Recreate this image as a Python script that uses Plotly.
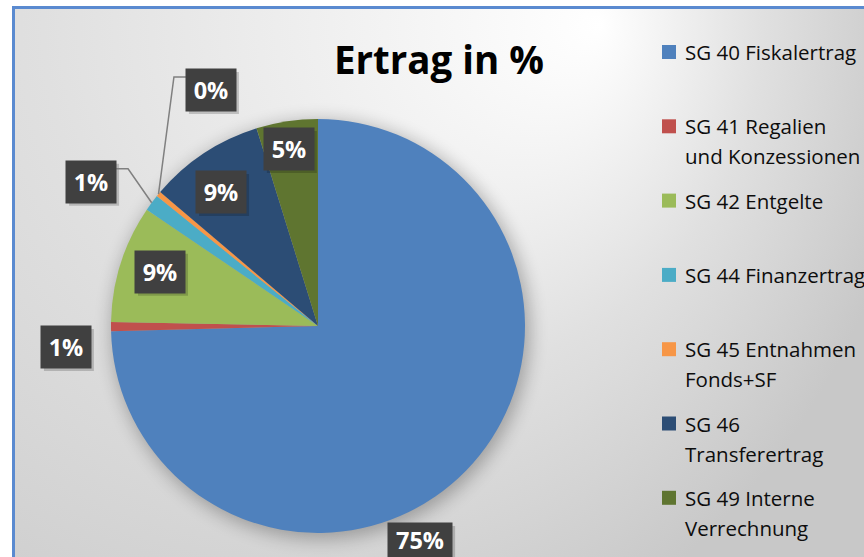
import math
import base64
import plotly.graph_objects as go

# ---------------- data ----------------
categories = [
    "SG 40 Fiskalertrag",
    "SG 41 Regalien und Konzessionen",
    "SG 42 Entgelte",
    "SG 44 Finanzertrag",
    "SG 45 Entnahmen Fonds+SF",
    "SG 46 Transferertrag",
    "SG 49 Interne Verrechnung",
]
legend_lines = [
    ["SG 40 Fiskalertrag"],
    ["SG 41 Regalien", "und Konzessionen"],
    ["SG 42 Entgelte"],
    ["SG 44 Finanzertrag"],
    ["SG 45 Entnahmen", "Fonds+SF"],
    ["SG 46", "Transferertrag"],
    ["SG 49 Interne", "Verrechnung"],
]
shares = [74.6, 0.7, 9.2, 1.3, 0.4, 9.0, 4.8]
colors = ["#4F81BD", "#C0504D", "#9BBB59", "#4BACC6", "#F79646", "#2C4D75", "#5F7530"]
title_text = "Ertrag in %"

# ---------------- layout constants ----------------
W, H = 864, 557
CX, CY, R = 318, 326, 207
# label placement relative to slice mid-angle: (angle offset deg, radius factor, leader line)
label_place = [(20.2, 1.145, False), (-4.6, 1.222, False), (1.3, 0.807, False),
               (-4.1, 1.299, True), (26.0, 1.252, True), (-2.4, 0.799, False), (-0.7, 0.867, False)]
label_w = [64, 50, 50, 50, 50, 50, 50]
label_h = [34, 42, 42, 42, 42, 42, 42]
legend_x_sq, legend_x_txt = 662, 683
legend_top, legend_step, legend_line_gap = 52, 74.3, 30

def px(x):
    return x / W

def py(y):
    return 1 - y / H

# ---------------- background (gradient + border + pie shadow) ----------------
svg = f'''<svg xmlns="http://www.w3.org/2000/svg" width="{W}" height="{H}" viewBox="0 0 {W} {H}">
<defs>
<radialGradient id="g" gradientUnits="userSpaceOnUse" cx="206" cy="20" r="719" fx="600" fy="25">
<stop offset="0" stop-color="#ffffff"/>
<stop offset="0.5" stop-color="#e0e0e0"/>
<stop offset="1" stop-color="#c8c8c8"/>
</radialGradient>
<filter id="b" x="-50%" y="-50%" width="200%" height="200%"><feGaussianBlur stdDeviation="9"/></filter>
</defs>
<rect width="{W}" height="{H}" fill="#ffffff"/>
<rect x="13.5" y="7.5" width="880" height="580" fill="url(#g)" stroke="#5A8AD0" stroke-width="3"/>
<circle cx="{CX+3}" cy="{CY+4}" r="{R+2}" fill="#000000" opacity="0.28" filter="url(#b)"/>
</svg>'''
bg_src = "data:image/svg+xml;base64," + base64.b64encode(svg.encode()).decode()

fig = go.Figure()
fig.add_trace(go.Pie(
    labels=categories,
    values=shares,
    sort=False,
    direction="clockwise",
    rotation=0,
    marker=dict(colors=colors, line=dict(width=0)),
    textinfo="none",
    hoverinfo="label+percent",
    showlegend=False,
    domain=dict(x=[(CX - R) / W, (CX + R) / W], y=[1 - (CY + R) / H, 1 - (CY - R) / H]),
))

annotations = []
shapes = []

# data labels
total = sum(shares)
start = 0.0
for i, v in enumerate(shares):
    mid = (start + v / 2) / total * 360
    start += v
    off, fac, leader = label_place[i]
    ang = math.radians(mid + off)
    lx = CX + R * fac * math.sin(ang)
    ly = CY - R * fac * math.cos(ang)
    bw = label_w[i]
    bh = label_h[i]
    txt = f"{round(v / total * 100):.0f}%"
    # shadow
    shapes.append(dict(type="rect", xref="paper", yref="paper",
                       x0=px(lx - bw / 2 + 3), x1=px(lx + bw / 2 + 3),
                       y0=py(min(ly + bh / 2 + 3, H)), y1=py(ly - bh / 2 + 3),
                       fillcolor="rgba(0,0,0,0.18)", line=dict(width=0)))
    if leader:
        ma = math.radians(mid)
        ex = CX + R * math.sin(ma)
        ey = CY - R * math.cos(ma)
        side = 1 if ex > lx else -1
        endx = lx + side * bw / 2
        elbx = lx + side * (bw / 2 + 12)
        yy = ly - 13
        shapes.append(dict(type="path", xref="paper", yref="paper",
                           path=f"M {px(ex)},{py(ey)} L {px(elbx)},{py(yy)} L {px(endx)},{py(yy)}",
                           line=dict(color="#808080", width=1.5)))
    annotations.append(dict(
        x=px(lx), y=py(ly), xref="paper", yref="paper", xanchor="center", yanchor="middle",
        text=f"<b>{txt}</b>", showarrow=False, width=bw, height=bh, borderpad=0,
        bgcolor="#404040", font=dict(family="Open Sans", size=23.5, color="#ffffff"),
    ))

# title
annotations.append(dict(
    x=px(439), y=py(59), xref="paper", yref="paper", xanchor="center", yanchor="middle",
    text=f"<b>{title_text}</b>", showarrow=False,
    font=dict(family="Open Sans", size=38.5, color="#000000"),
))

# legend (manual, to match the spacing)
for i, lines in enumerate(legend_lines):
    cy = legend_top + i * legend_step
    shapes.append(dict(type="rect", xref="paper", yref="paper",
                       x0=px(legend_x_sq), x1=px(legend_x_sq + 14),
                       y0=py(cy + 7), y1=py(cy - 7),
                       fillcolor=colors[i], line=dict(width=0)))
    for j, line in enumerate(lines):
        annotations.append(dict(
            x=px(legend_x_txt), y=py(cy + j * legend_line_gap), xref="paper", yref="paper",
            xanchor="left", yanchor="middle", text=line, showarrow=False,
            font=dict(family="Open Sans", size=20.5, color="#0d0d0d"),
        ))

fig.update_layout(
    width=W, height=H,
    margin=dict(l=0, r=0, t=0, b=0),
    paper_bgcolor="#ffffff",
    plot_bgcolor="rgba(0,0,0,0)",
    images=[dict(source=bg_src, xref="paper", yref="paper", x=0, y=1, sizex=1, sizey=1,
                 xanchor="left", yanchor="top", sizing="stretch", layer="below")],
    annotations=annotations,
    shapes=shapes,
    showlegend=False,
)

fig.write_html("out.html", config={"displayModeBar": False},
               post_script="document.body.style.margin='0';")
